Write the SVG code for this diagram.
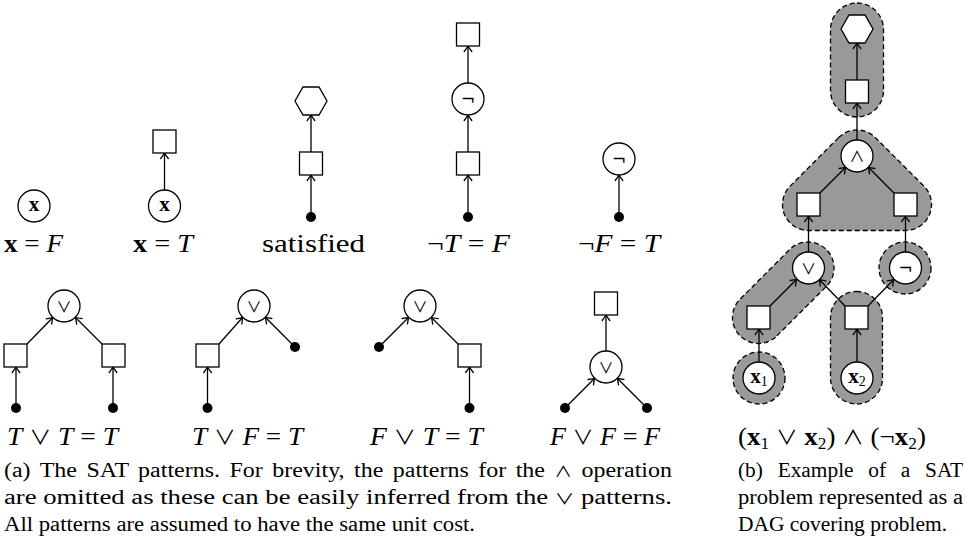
<svg xmlns="http://www.w3.org/2000/svg" width="967" height="550" viewBox="0 0 967 550">
<defs>
<marker id="arr" viewBox="-7 -5 9 10" markerWidth="9" markerHeight="10" refX="0" refY="0" orient="auto" markerUnits="userSpaceOnUse">
<path d="M-5.5,-3.8 Q-1.8,-1 0,0 Q-1.8,1 -5.5,3.8" fill="none" stroke="#000" stroke-width="1.3" stroke-linecap="round"/>
</marker>
</defs>
<style>
.n{fill:#fff;stroke:#000;stroke-width:1.3}
.d{fill:#000}
.e{fill:none;stroke:#000;stroke-width:1.3;marker-end:url(#arr)}
.cov{fill:#999;stroke:#000;stroke-width:1.3;stroke-dasharray:5 3}
.lab{font-family:"Liberation Serif",serif;font-size:25px;fill:#000}
.it{font-style:italic}
.bf{font-weight:bold}
.sym{font-family:"Noto Sans CJK JP","DejaVu Sans",sans-serif;font-size:20px;font-style:normal;font-weight:normal}
.nx{font-family:"Liberation Serif",serif;font-size:21px;font-weight:bold;text-anchor:middle;fill:#000}
.op{font-family:"Noto Sans CJK JP","DejaVu Sans",sans-serif;font-size:15px;text-anchor:middle;fill:#000}
.neg{font-family:"DejaVu Sans",sans-serif;font-size:17px;text-anchor:middle;fill:#000}
.cap{font-family:"Liberation Serif",serif;font-size:20.5px;fill:#000}
.csym{font-family:"Noto Sans CJK JP","DejaVu Sans",sans-serif;font-size:15px}
.sub{font-weight:normal;font-size:14px}
</style>
<rect width="967" height="550" fill="#fff"/>

<g id="covers">
<rect class="cov" x="830.5" y="3" width="53" height="114" rx="26.5"/>
<path class="cov" d="M838.6,137.6 L790.1,186.1 A26,26 0 0 0 808.5,230.5 L905.5,230.5 A26,26 0 0 0 923.9,186.1 L875.4,137.6 A26,26 0 0 0 838.6,137.6 Z"/>
<path class="cov" d="M776.9,335.9 L826.4,286.4 A26,26 0 0 0 789.6,249.6 L740.1,299.1 A26,26 0 0 0 776.9,335.9 Z"/>
<circle class="cov" cx="905" cy="268" r="26"/>
<circle class="cov" cx="759" cy="378" r="26"/>
<rect class="cov" x="830.5" y="291.5" width="52" height="112.5" rx="26"/>
</g>

<g id="connectors">
<line class="e" x1="164.5" y1="190" x2="164.5" y2="153"/>
<line class="e" x1="311" y1="217" x2="311" y2="175"/>
<line class="e" x1="311" y1="152" x2="311" y2="115"/>
<line class="e" x1="468" y1="217" x2="468" y2="175"/>
<line class="e" x1="468" y1="152" x2="468" y2="115"/>
<line class="e" x1="468" y1="83" x2="468" y2="46"/>
<line class="e" x1="619" y1="217" x2="619" y2="175"/>
<line class="e" x1="16" y1="408" x2="16" y2="367"/>
<line class="e" x1="113" y1="408" x2="113" y2="367"/>
<line class="e" x1="27" y1="344" x2="52.8" y2="317.5"/>
<line class="e" x1="102" y1="344" x2="75.5" y2="317.5"/>
<line class="e" x1="207.5" y1="408" x2="207.5" y2="367"/>
<line class="e" x1="219" y1="344" x2="242.7" y2="317.3"/>
<line class="e" x1="295" y1="347" x2="265.3" y2="317.3"/>
<line class="e" x1="379" y1="347" x2="408.7" y2="317.3"/>
<line class="e" x1="469.5" y1="408" x2="469.5" y2="367"/>
<line class="e" x1="458" y1="344" x2="431.5" y2="317.5"/>
<line class="e" x1="565" y1="408" x2="594.7" y2="378.3"/>
<line class="e" x1="647" y1="408" x2="617.3" y2="378.3"/>
<line class="e" x1="606" y1="351" x2="606" y2="315"/>
<line class="e" x1="857" y1="80" x2="857" y2="43"/>
<line class="e" x1="857" y1="140" x2="857" y2="103"/>
<line class="e" x1="820" y1="193" x2="845.7" y2="167.3"/>
<line class="e" x1="894" y1="193" x2="868.3" y2="167.3"/>
<line class="e" x1="808.5" y1="252" x2="808.5" y2="216"/>
<line class="e" x1="905.5" y1="252" x2="905.5" y2="216"/>
<line class="e" x1="770" y1="306" x2="796.7" y2="279.3"/>
<line class="e" x1="845" y1="306" x2="819.2" y2="279.5"/>
<line class="e" x1="868" y1="306" x2="893.8" y2="279.5"/>
<line class="e" x1="759" y1="362" x2="759" y2="329"/>
<line class="e" x1="857" y1="362" x2="857" y2="329"/>
</g>

<g id="pxF-var"><circle class="n" cx="34" cy="206" r="16"/><text class="nx" x="34" y="211">x</text></g>
<g id="pxT-var"><circle class="n" cx="164.5" cy="206" r="16"/><text class="nx" x="164.5" y="211">x</text></g>
<g id="pxT-val"><rect class="n" x="153" y="130" width="23" height="23"/></g>
<g id="psat-hex"><polygon class="n" points="295,101 303,87 319,87 327,101 319,115 303,115"/></g>
<g id="psat-val"><rect class="n" x="299.5" y="152" width="23" height="23"/></g>
<g id="psat-dot"><circle class="d" cx="311" cy="217" r="5"/></g>
<g id="pnT-out"><rect class="n" x="456.5" y="23" width="23" height="23"/></g>
<g id="pnT-op"><circle class="n" cx="468" cy="99" r="16"/><text class="neg" x="468" y="104.5">¬</text></g>
<g id="pnT-in"><rect class="n" x="456.5" y="152" width="23" height="23"/></g>
<g id="pnT-dot"><circle class="d" cx="468" cy="217" r="5"/></g>
<g id="pnF-op"><circle class="n" cx="619" cy="159" r="16"/><text class="neg" x="619" y="164.5">¬</text></g>
<g id="pnF-dot"><circle class="d" cx="619" cy="217" r="5"/></g>

<g id="pTT-op"><circle class="n" cx="64" cy="306" r="16"/><text class="op" x="64" y="311.5">∨</text></g>
<g id="pTT-l"><rect class="n" x="4" y="344" width="23" height="23"/></g>
<g id="pTT-r"><rect class="n" x="102" y="344" width="23" height="23"/></g>
<g id="pTT-d1"><circle class="d" cx="16" cy="408" r="5"/></g>
<g id="pTT-d2"><circle class="d" cx="113" cy="408" r="5"/></g>
<g id="pTF-op"><circle class="n" cx="254" cy="306" r="16"/><text class="op" x="254" y="311.5">∨</text></g>
<g id="pTF-l"><rect class="n" x="196" y="344" width="23" height="23"/></g>
<g id="pTF-d1"><circle class="d" cx="207.5" cy="408" r="5"/></g>
<g id="pTF-d2"><circle class="d" cx="295" cy="347" r="5"/></g>
<g id="pFT-op"><circle class="n" cx="420" cy="306" r="16"/><text class="op" x="420" y="311.5">∨</text></g>
<g id="pFT-r"><rect class="n" x="458" y="344" width="23" height="23"/></g>
<g id="pFT-d1"><circle class="d" cx="379" cy="347" r="5"/></g>
<g id="pFT-d2"><circle class="d" cx="469.5" cy="408" r="5"/></g>
<g id="pFF-out"><rect class="n" x="594.5" y="292" width="23" height="23"/></g>
<g id="pFF-op"><circle class="n" cx="606" cy="367" r="16"/><text class="op" x="606" y="372.5">∨</text></g>
<g id="pFF-d1"><circle class="d" cx="565" cy="408" r="5"/></g>
<g id="pFF-d2"><circle class="d" cx="647" cy="408" r="5"/></g>

<g id="b-hex"><polygon class="n" points="841,29 849,15 865,15 873,29 865,43 849,43"/></g>
<g id="b-sq-top"><rect class="n" x="845.5" y="80" width="23" height="23"/></g>
<g id="b-and"><circle class="n" cx="857" cy="156" r="16"/><text class="op" x="857" y="161.5">∧</text></g>
<g id="b-sq-l"><rect class="n" x="797" y="193" width="23" height="23"/></g>
<g id="b-sq-r"><rect class="n" x="894" y="193" width="23" height="23"/></g>
<g id="b-or"><circle class="n" cx="808.5" cy="268" r="16"/><text class="op" x="808.5" y="273.5">∨</text></g>
<g id="b-not"><circle class="n" cx="905.5" cy="268" r="16"/><text class="neg" x="905.5" y="273.5">¬</text></g>
<g id="b-sq-x1"><rect class="n" x="747" y="306" width="23" height="23"/></g>
<g id="b-sq-x2"><rect class="n" x="845" y="306" width="23" height="23"/></g>
<g id="b-x1"><circle class="n" cx="759" cy="378" r="16"/><text class="nx" x="759" y="383">x<tspan class="sub" dy="3">1</tspan></text></g>
<g id="b-x2"><circle class="n" cx="857" cy="378" r="16"/><text class="nx" x="857" y="383">x<tspan class="sub" dy="3">2</tspan></text></g>

<g id="labels">
<text class="lab" x="4" y="252" textLength="59" lengthAdjust="spacingAndGlyphs"><tspan class="bf">x</tspan> = <tspan class="it">F</tspan></text>
<text class="lab" x="133" y="252" textLength="60" lengthAdjust="spacingAndGlyphs"><tspan class="bf">x</tspan> = <tspan class="it">T</tspan></text>
<text class="lab" x="262" y="252" textLength="103" lengthAdjust="spacingAndGlyphs">satisfied</text>
<text class="lab" x="427" y="252" textLength="83" lengthAdjust="spacingAndGlyphs">¬<tspan class="it">T</tspan> = <tspan class="it">F</tspan></text>
<text class="lab" x="578" y="252" textLength="82" lengthAdjust="spacingAndGlyphs">¬<tspan class="it">F</tspan> = <tspan class="it">T</tspan></text>
<text class="lab" x="7" y="445" textLength="111" lengthAdjust="spacingAndGlyphs"><tspan class="it">T</tspan> <tspan class="sym">∨</tspan> <tspan class="it">T</tspan> = <tspan class="it">T</tspan></text>
<text class="lab" x="192" y="445" textLength="111" lengthAdjust="spacingAndGlyphs"><tspan class="it">T</tspan> <tspan class="sym">∨</tspan> <tspan class="it">F</tspan> = <tspan class="it">T</tspan></text>
<text class="lab" x="370" y="445" textLength="113" lengthAdjust="spacingAndGlyphs"><tspan class="it">F</tspan> <tspan class="sym">∨</tspan> <tspan class="it">T</tspan> = <tspan class="it">T</tspan></text>
<text class="lab" x="550" y="445" textLength="110" lengthAdjust="spacingAndGlyphs"><tspan class="it">F</tspan> <tspan class="sym">∨</tspan> <tspan class="it">F</tspan> = <tspan class="it">F</tspan></text>
<text class="lab" x="738" y="445" textLength="188" lengthAdjust="spacingAndGlyphs">(<tspan class="bf">x</tspan><tspan font-size="16" dy="4">1</tspan><tspan dy="-4"> </tspan><tspan class="sym">∨</tspan> <tspan class="bf">x</tspan><tspan font-size="16" dy="4">2</tspan><tspan dy="-4">) </tspan><tspan class="sym">∧</tspan> (¬<tspan class="bf">x</tspan><tspan font-size="16" dy="4">2</tspan><tspan dy="-4">)</tspan></text>
</g>

<g id="captions">
<text class="cap" x="4" y="477" textLength="668" lengthAdjust="spacingAndGlyphs" word-spacing="3">(a) The SAT patterns.  For brevity, the patterns for the <tspan class="csym">∧</tspan> operation</text>
<text class="cap" x="4" y="504" textLength="668" lengthAdjust="spacingAndGlyphs">are omitted as these can be easily inferred from the <tspan class="csym">∨</tspan> patterns.</text>
<text class="cap" x="4" y="531" textLength="471" lengthAdjust="spacingAndGlyphs">All patterns are assumed to have the same unit cost.</text>
<text class="cap" x="738" y="477" textLength="225" lengthAdjust="spacingAndGlyphs" word-spacing="9">(b) Example of a SAT</text>
<text class="cap" x="738" y="504" textLength="225" lengthAdjust="spacingAndGlyphs">problem represented as a</text>
<text class="cap" x="738" y="531" textLength="209" lengthAdjust="spacingAndGlyphs">DAG covering problem.</text>
</g>
</svg>
